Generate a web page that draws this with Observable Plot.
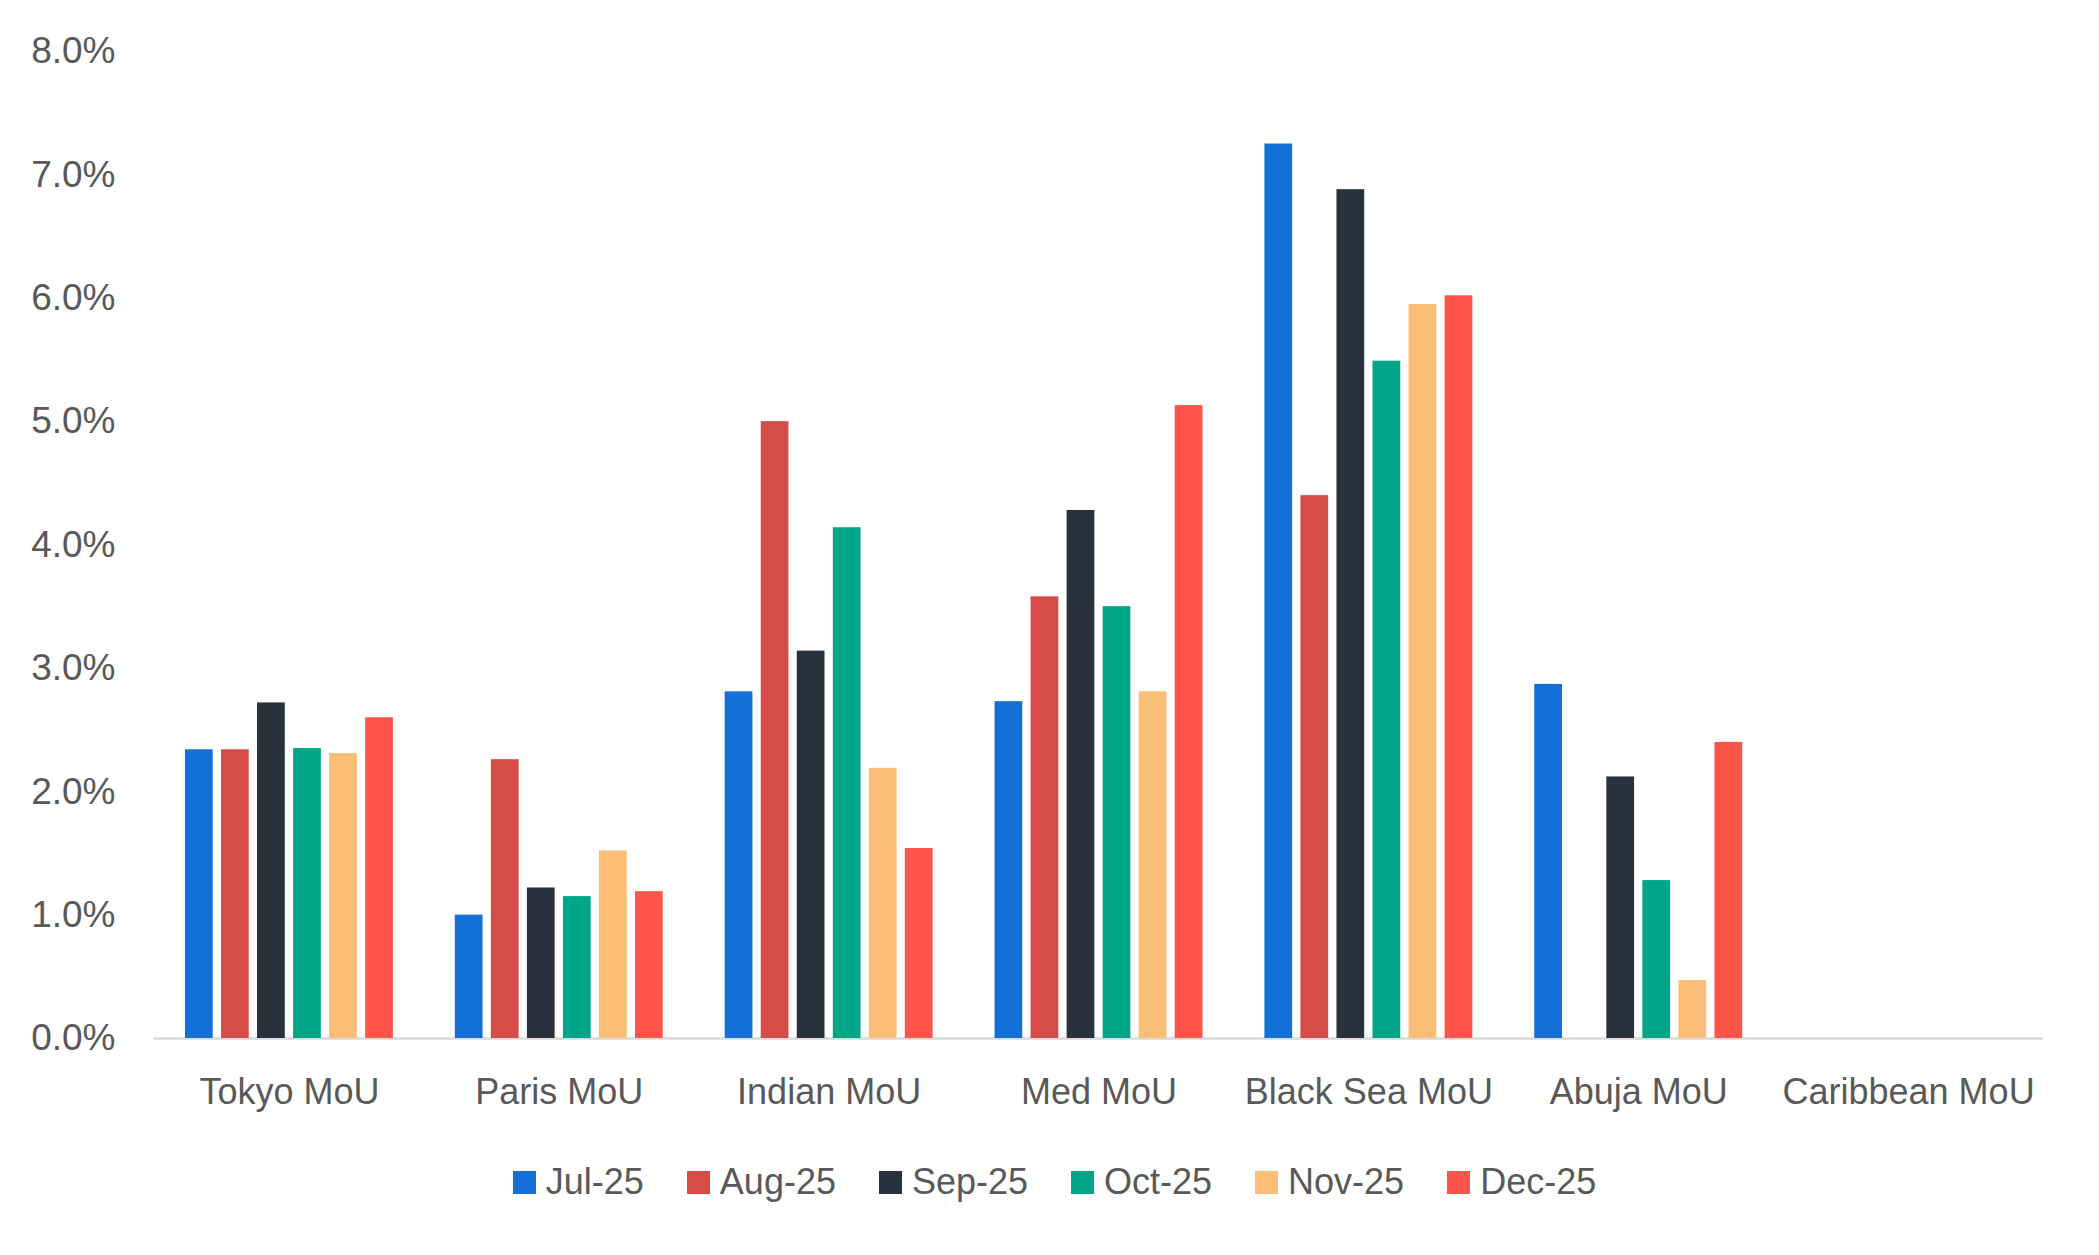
<!DOCTYPE html>
<html>
<head>
<meta charset="utf-8">
<script src="https://cdn.jsdelivr.net/npm/d3@7"></script>
<script src="https://cdn.jsdelivr.net/npm/@observablehq/plot@0.6"></script>
<style>
  html, body { margin: 0; padding: 0; background: #ffffff; }
  body { width: 2099px; height: 1255px; overflow: hidden; font-family: "Liberation Sans", Arial, sans-serif; }
  #legend { display: flex; justify-content: center; align-items: center; gap: 43px; height: 40px; margin-top: 22px; padding-left: 10px; color: #595959; font-size: 36px; }
  .item { display: flex; align-items: center; }
  .sw { width: 23px; height: 23px; margin-right: 10px; }
</style>
</head>
<body>
<div id="chart"></div>
<div id="legend"></div>
<script>
// Categories (x groups)
const categories = ["Tokyo MoU", "Paris MoU", "Indian MoU", "Med MoU", "Black Sea MoU", "Abuja MoU", "Caribbean MoU"];
// Series (months)
const months = ["Jul-25", "Aug-25", "Sep-25", "Oct-25", "Nov-25", "Dec-25"];
const colors = ["#1470d6", "#d64c49", "#29323c", "#01a688", "#fabe77", "#ff544a"];
// Values in percent, one array per month, in category order
const jul25 = [2.34, 1.00, 2.81, 2.73, 7.25, 2.87, 0];
const aug25 = [2.34, 2.26, 5.00, 3.58, 4.40, 0, 0];
const sep25 = [2.72, 1.22, 3.14, 4.28, 6.88, 2.12, 0];
const oct25 = [2.35, 1.15, 4.14, 3.50, 5.49, 1.28, 0];
const nov25 = [2.31, 1.52, 2.19, 2.81, 5.95, 0.47, 0];
const dec25 = [2.60, 1.19, 1.54, 5.13, 6.02, 2.40, 0];
// y-axis ticks
const yTicks = [0, 1, 2, 3, 4, 5, 6, 7, 8];

const series = [jul25, aug25, sep25, oct25, nov25, dec25];
const data = [];
categories.forEach((c, ci) => {
  months.forEach((m, mi) => {
    data.push({mou: c, month: m, value: series[mi][ci]});
  });
});

const chart = Plot.plot({
  width: 2099,
  height: 1140,
  marginLeft: 154,
  marginRight: 56,
  marginTop: 51,
  marginBottom: 102,
  style: {fontFamily: "Liberation Sans, Arial, sans-serif", color: "#595959", background: "#ffffff"},
  fx: {domain: categories, paddingInner: 0, paddingOuter: 0, round: false, label: null},
  x: {domain: months, paddingInner: 0.23, paddingOuter: 0.859, round: false, axis: null},
  y: {domain: [0, 8], label: null},
  color: {domain: months, range: colors},
  marks: [
    Plot.ruleY([0], {stroke: "#d9d9d9", strokeWidth: 2.5}),
    Plot.barY(data, {fx: "mou", x: "month", y: "value", fill: "month"}),
    Plot.axisY({ticks: yTicks, tickFormat: d => d.toFixed(1) + "%", tickSize: 0, tickPadding: 39, fontSize: 37, label: null}),
    Plot.axisFx({anchor: "bottom", tickSize: 0, tickPadding: 40, fontSize: 36, label: null})
  ]
});
document.getElementById("chart").appendChild(chart);

const legend = document.getElementById("legend");
months.forEach((m, i) => {
  const item = document.createElement("div");
  item.className = "item";
  const sw = document.createElement("div");
  sw.className = "sw";
  sw.style.background = colors[i];
  const label = document.createElement("span");
  label.textContent = m;
  item.appendChild(sw);
  item.appendChild(label);
  legend.appendChild(item);
});
</script>
</body>
</html>
